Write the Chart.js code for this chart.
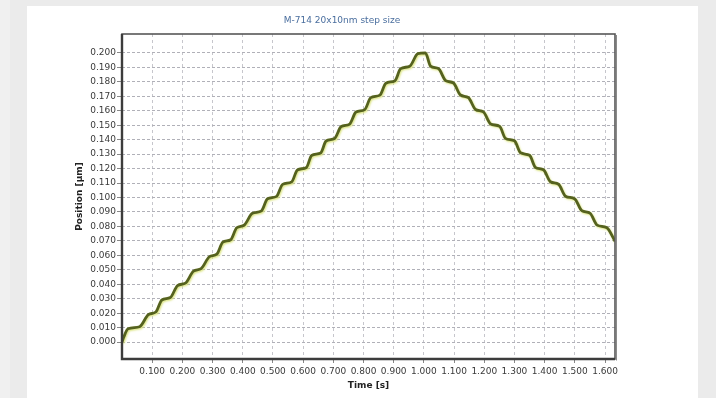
<!DOCTYPE html>
<html>
<head>
<meta charset="utf-8">
<script src="https://cdn.jsdelivr.net/npm/chart.js@4"></script>
<style>
  html, body { margin: 0; padding: 0; width: 716px; height: 398px; overflow: hidden; background: #ebebeb; }
  #leftStrip { position: absolute; left: 0; top: 0; width: 10px; height: 398px; background: #f0f0f0; }
  #panel { position: absolute; left: 27px; top: 6px; width: 671px; height: 392px; background: #ffffff; }
  #wrap { position: absolute; left: 0; top: 0; width: 716px; height: 398px; }
</style>
</head>
<body>
<div id="leftStrip"></div>
<div id="panel"></div>
<div id="wrap"><canvas id="c" width="716" height="398"></canvas></div>
<script>
// ---- data ----
const chartTitle = "M-714 20x10nm step size";
const xAxisTitle = "Time [s]";
const yAxisTitle = "Position [µm]";

// time [s] of each point
const timeS = [
  0.000, 0.006, 0.020, 0.058,
  0.088, 0.112, 0.132, 0.160, 0.184, 0.210, 0.237, 0.262,
  0.290, 0.314, 0.334, 0.360, 0.380, 0.404, 0.432, 0.462,
  0.482, 0.512, 0.532, 0.562, 0.581, 0.611, 0.628, 0.658,
  0.676, 0.704, 0.726, 0.754, 0.775, 0.804, 0.824, 0.854,
  0.874, 0.904, 0.923, 0.953, 0.980, 1.005,
  1.022, 1.048, 1.072, 1.098, 1.121, 1.147, 1.171, 1.197,
  1.221, 1.251, 1.270, 1.300, 1.320, 1.350, 1.369, 1.396,
  1.419, 1.446, 1.469, 1.499, 1.523, 1.550, 1.574, 1.605,
  1.633
];
// position [µm] of each point
const positionUm = [
  0.0000, 0.0035, 0.0092, 0.0106,
  0.0191, 0.0208, 0.0291, 0.0308, 0.0391, 0.0408, 0.0491, 0.0508,
  0.0591, 0.0608, 0.0691, 0.0708, 0.0791, 0.0808, 0.0891, 0.0908,
  0.0991, 0.1008, 0.1091, 0.1108, 0.1191, 0.1208, 0.1291, 0.1308,
  0.1391, 0.1408, 0.1491, 0.1508, 0.1591, 0.1608, 0.1691, 0.1708,
  0.1791, 0.1808, 0.1891, 0.1908, 0.1995, 0.2000,
  0.1909, 0.1892, 0.1809, 0.1792, 0.1709, 0.1692, 0.1609, 0.1592,
  0.1509, 0.1492, 0.1409, 0.1392, 0.1309, 0.1292, 0.1209, 0.1192,
  0.1109, 0.1092, 0.1009, 0.0992, 0.0909, 0.0892, 0.0809, 0.0792,
  0.0698
];

const xTicks = [0.1, 0.2, 0.3, 0.4, 0.5, 0.6, 0.7, 0.8, 0.9, 1.0, 1.1, 1.2, 1.3, 1.4, 1.5, 1.6];
const yTicks = [0.00, 0.01, 0.02, 0.03, 0.04, 0.05, 0.06, 0.07, 0.08, 0.09, 0.10,
                0.11, 0.12, 0.13, 0.14, 0.15, 0.16, 0.17, 0.18, 0.19, 0.20];
const xRange = [0, 1.633];
const yRange = [-0.0117, 0.2131];

// ---- chart ----
const points = timeS.map((t, i) => ({ x: t, y: positionUm[i] }));

const FONT = "'DejaVu Sans', 'Liberation Sans', Arial, sans-serif";

const lineGlow = {
  id: 'lineGlow',
  beforeDatasetDraw(chart) {
    const ctx = chart.ctx;
    ctx.save();
    ctx.shadowColor = 'rgba(214, 224, 110, 0.85)';
    ctx.shadowBlur = 2;
    ctx.shadowOffsetX = 1;
    ctx.shadowOffsetY = 1.2;
  },
  afterDatasetDraw(chart) {
    chart.ctx.restore();
  }
};

const frameAndTitle = {
  id: 'frameAndTitle',
  afterDraw(chart) {
    const ctx = chart.ctx;
    const a = chart.chartArea;
    ctx.save();
    ctx.strokeStyle = '#575757';
    ctx.lineWidth = 1.6;
    ctx.strokeRect(a.left, a.top, a.right - a.left, a.bottom - a.top);
    ctx.strokeStyle = '#3c3c3c';
    ctx.lineWidth = 2.4;
    ctx.beginPath();
    ctx.moveTo(a.left, a.top);
    ctx.lineTo(a.left, a.bottom);
    ctx.lineTo(a.right, a.bottom);
    ctx.stroke();
    ctx.strokeStyle = '#8a8a8a';
    ctx.lineWidth = 1;
    ctx.beginPath();
    ctx.moveTo(a.right + 1.5, a.top + 1);
    ctx.lineTo(a.right + 1.5, a.bottom + 1.5);
    ctx.stroke();
    // title
    ctx.fillStyle = '#4a6e9e';
    ctx.font = "9px " + FONT;
    ctx.textAlign = 'center';
    ctx.textBaseline = 'middle';
    ctx.fillText(chartTitle, 342, 21);
    ctx.restore();
  }
};

new Chart(document.getElementById('c'), {
  type: 'line',
  data: {
    datasets: [{
      data: points,
      borderColor: '#55621e',
      borderWidth: 2.8,
      pointRadius: 0,
      fill: false,
      cubicInterpolationMode: 'monotone'
    }]
  },
  options: {
    responsive: false,
    animation: false,
    events: [],
    layout: { padding: { left: 0, right: 101, top: 34, bottom: 0 } },
    plugins: { legend: { display: false }, tooltip: { enabled: false }, title: { display: false } },
    scales: {
      x: {
        type: 'linear',
        min: xRange[0],
        max: xRange[1],
        afterBuildTicks: s => { s.ticks = xTicks.map(v => ({ value: v })); },
        afterFit: s => { s.height = 39; },
        border: { display: false, dash: [3, 3] },
        grid: {
          color: '#c6c6cc',
          lineWidth: 1,
          drawTicks: true,
          tickLength: 4,
          tickColor: '#888',
          tickBorderDash: []
        },
        ticks: {
          autoSkip: false,
          maxRotation: 0,
          padding: 3,
          color: '#3a3a3a',
          font: { family: FONT, size: 9 },
          callback: v => Number(v).toFixed(3)
        },
        title: {
          display: true,
          text: xAxisTitle,
          color: '#222',
          font: { family: FONT, size: 9, weight: 'bold' },
          padding: { top: 0, bottom: 6.6 }
        }
      },
      y: {
        type: 'linear',
        min: yRange[0],
        max: yRange[1],
        afterBuildTicks: s => { s.ticks = yTicks.map(v => ({ value: v })); },
        afterFit: s => { s.width = 122; },
        border: { display: false, dash: [3, 2] },
        grid: {
          color: '#b0b0b8',
          lineWidth: 1,
          drawTicks: true,
          tickLength: 5,
          tickColor: '#888',
          tickBorderDash: []
        },
        ticks: {
          autoSkip: false,
          padding: 1,
          color: '#3a3a3a',
          font: { family: FONT, size: 9 },
          callback: v => Number(v).toFixed(3)
        },
        title: {
          display: true,
          text: yAxisTitle,
          color: '#222',
          font: { family: FONT, size: 9, weight: 'bold' },
          padding: { top: 74.6, bottom: 0 }
        }
      }
    }
  },
  plugins: [lineGlow, frameAndTitle]
});
</script>
</body>
</html>
